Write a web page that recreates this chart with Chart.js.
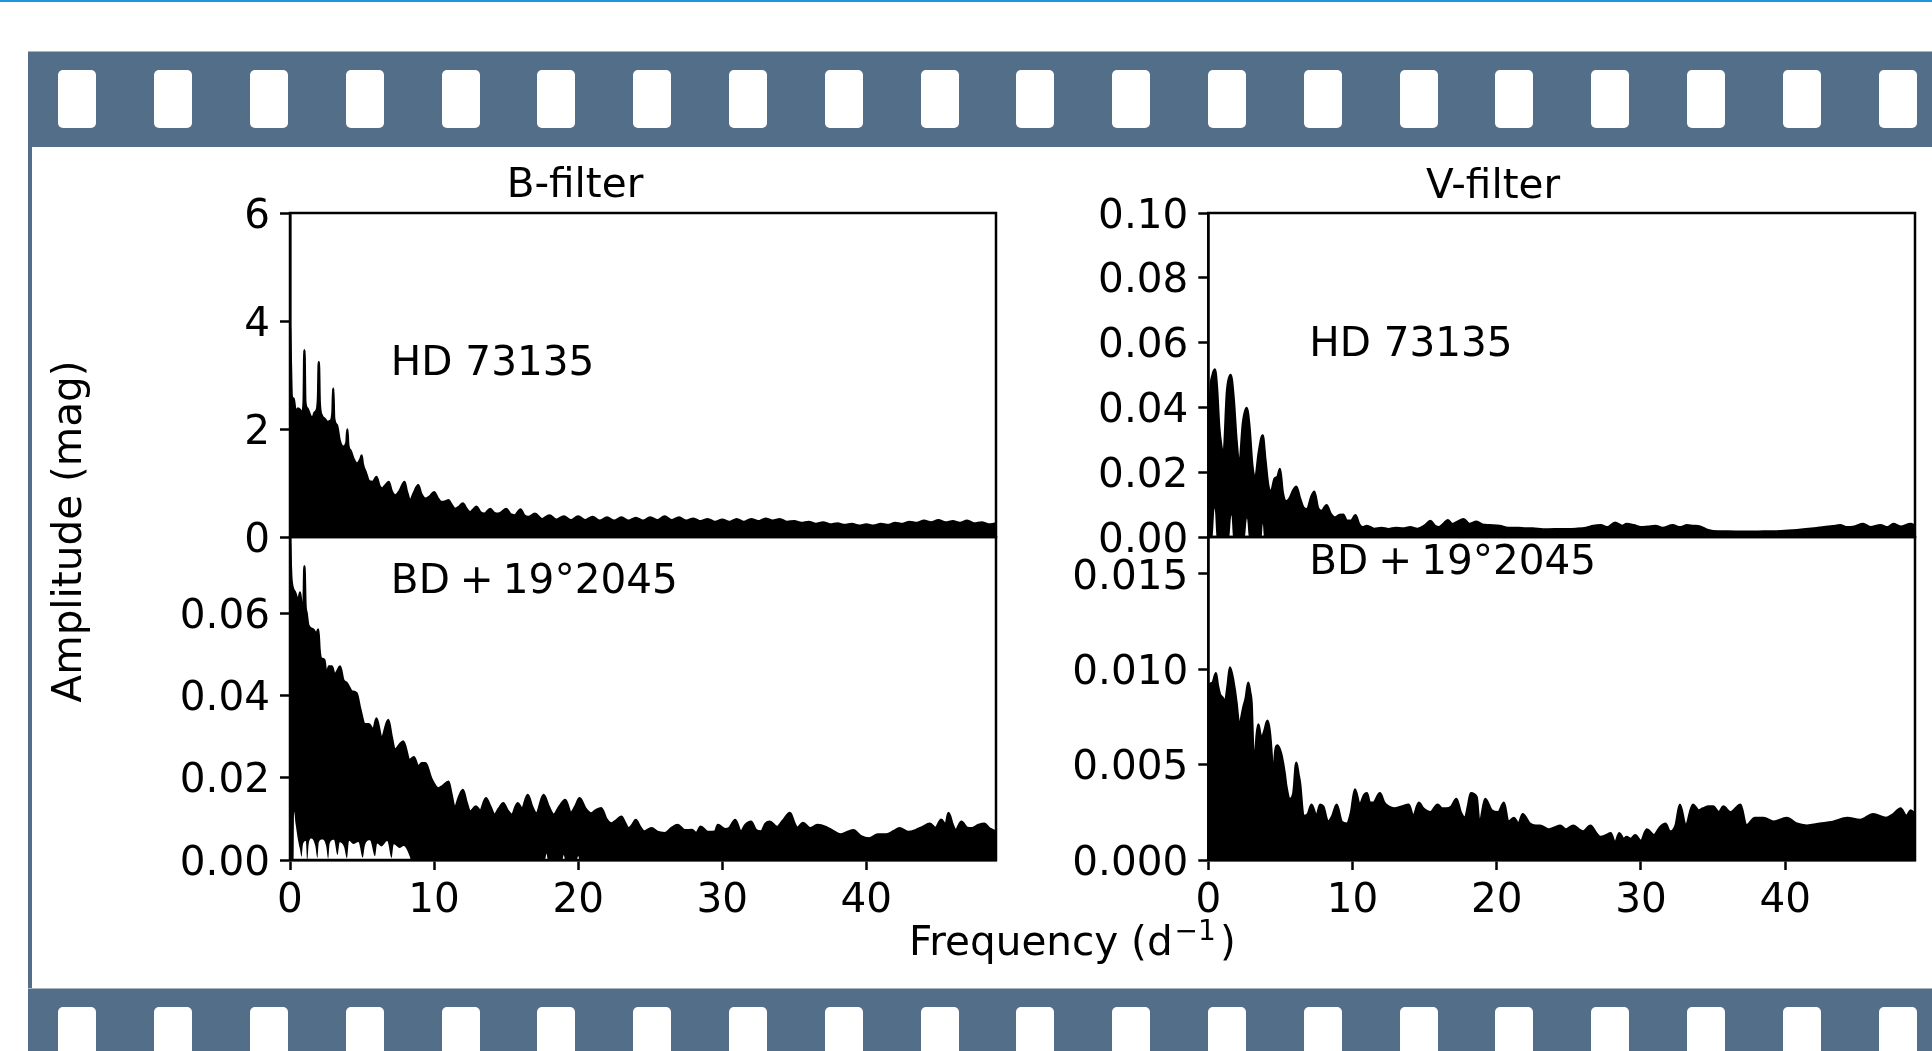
<!DOCTYPE html>
<html>
<head>
<meta charset="utf-8">
<title>Amplitude spectra, B and V filter</title>
<script src="https://cdn.jsdelivr.net/npm/chart.js@4.4.1/dist/chart.umd.min.js"></script>
<style>
  html, body { margin: 0; padding: 0; background: #fff; }
  #page { position: relative; width: 1932px; height: 1051px; overflow: hidden; background: #fff; }
  .topline { position: absolute; left: 0; top: 0; width: 1932px; height: 2px; background: #1e96dc; }
  .strip { position: absolute; left: 28px; width: 1904px; background: #536e88; }
  .strip.top { top: 51px; height: 96px; border-top: 1px solid #a9b5c1; box-sizing: border-box; }
  .strip.bottom { top: 988px; height: 63px; border-top: 1px solid #a9b5c1; box-sizing: border-box; }
  .hole { position: absolute; width: 38px; height: 58px; background: #fff; border-radius: 5px; }
  .sideline { position: absolute; left: 28px; top: 147px; width: 3.5px; height: 841px; background: #536e88; }
  canvas { position: absolute; left: 0; top: 0; }
</style>
</head>
<body>
<div id="page">
  <div class="topline"></div>
  <div class="strip top" id="stripTop"></div>
  <div class="sideline"></div>
  <div class="strip bottom" id="stripBottom"></div>
  <canvas id="cB1" width="1932" height="1051"></canvas>
  <canvas id="cB2" width="1932" height="1051"></canvas>
  <canvas id="cV1" width="1932" height="1051"></canvas>
  <canvas id="cV2" width="1932" height="1051"></canvas>
</div>
<script>
// ---- data: [frequency (1/d), amplitude (mag)] ----
const xTicks = [0, 10, 20, 30, 40];
const ticksB1 = [0, 2, 4, 6];
const ticksB2 = [0, 0.02, 0.04, 0.06];
const ticksV1 = [0, 0.02, 0.04, 0.06, 0.08, 0.10];
const ticksV2 = [0, 0.005, 0.010, 0.015];

// B-filter, HD 73135 (upper envelope)
const specB1 = [
  [0,3.86],[0.05,3.3],[0.12,2.6],[0.25,2.56],[0.4,2.3],[0.55,2.38],[0.7,2.35],[0.85,2.3],[0.95,2.5],[1.0,3.46],
  [1.06,2.5],[1.2,2.38],[1.4,2.25],[1.55,2.19],[1.7,2.3],[1.85,2.35],[1.95,2.6],[2.0,3.24],[2.06,2.5],[2.2,2.25],
  [2.4,2.19],[2.6,2.13],[2.8,2.15],[2.95,2.3],[3.0,2.75],[3.06,2.2],[3.25,2.07],[3.45,1.78],[3.7,1.67],[3.92,1.75],
  [3.98,1.99],[4.04,1.7],[4.2,1.6],[4.4,1.45],[4.65,1.36],[4.9,1.45],[4.97,1.51],[5.05,1.35],[5.25,1.2],[5.5,1.03],
  [5.75,1.02],[6.0,1.11],[6.2,0.95],[6.4,0.9],[6.6,0.95],[6.85,1.02],[7.05,0.85],[7.3,0.77],[7.6,0.85],[7.95,1.02],
  [8.1,0.85],[8.35,0.68],[8.6,0.82],[8.9,0.96],[9.1,0.8],[9.4,0.71],[9.7,0.75],[10.0,0.83],[10.25,0.72],[10.5,0.65],
  [10.8,0.66],[11.0,0.68],[11.2,0.6],[11.45,0.52],[11.7,0.55],[12.0,0.62],[12.25,0.52],[12.5,0.46],[12.7,0.5],[12.95,0.56],
  [13.2,0.46],[13.5,0.43],[13.9,0.52],[14.15,0.45],[14.45,0.43],[14.7,0.46],[15.0,0.52],[15.3,0.42],[15.6,0.4],[16.0,0.51],
  [16.25,0.4],[16.55,0.37],[17.0,0.43],[17.5,0.33],[18.0,0.4],[18.5,0.32],[19.0,0.38],[19.5,0.31],[20.0,0.38],[20.5,0.31],
  [21.0,0.37],[21.5,0.3],[22.0,0.36],[22.5,0.3],[23.0,0.36],[23.5,0.3],[24.0,0.35],[24.5,0.3],[25.0,0.36],[25.5,0.31],
  [26.0,0.38],[26.5,0.31],[27.0,0.36],[27.5,0.3],[28.0,0.34],[28.5,0.29],[29.0,0.33],[29.5,0.28],[30.0,0.32],[30.5,0.28],
  [31.0,0.33],[31.5,0.28],[32.0,0.33],[32.5,0.29],[33.0,0.34],[33.5,0.3],[34.0,0.33],[34.5,0.28],[35.0,0.29],[35.5,0.26],
  [36.0,0.28],[36.5,0.24],[37.0,0.27],[37.5,0.23],[38.0,0.25],[38.5,0.22],[39.0,0.24],[39.5,0.21],[40.0,0.23],[40.5,0.21],
  [41.0,0.24],[41.5,0.22],[42.0,0.26],[42.5,0.24],[43.0,0.28],[43.5,0.26],[44.0,0.3],[44.5,0.27],[45.0,0.31],[45.5,0.27],
  [46.0,0.29],[46.5,0.26],[47.0,0.3],[47.5,0.25],[48.0,0.27],[48.5,0.23],[49.0,0.25]
];

// B-filter, BD+19 2045 (upper envelope and the white gaps under it)
const specB2 = [
  [0,0.077],[0.05,0.072],[0.1,0.068],[0.35,0.065],[0.58,0.063],[0.7,0.065],[0.85,0.06],[0.95,0.063],[1.0,0.0714],[1.07,0.062],
  [1.15,0.06],[1.27,0.057],[1.6,0.056],[1.85,0.055],[1.96,0.056],[2.05,0.051],[2.15,0.049],[2.38,0.0486],[2.54,0.0446],[2.7,0.047],
  [2.9,0.047],[3.1,0.045],[3.3,0.046],[3.47,0.047],[3.7,0.0437],[3.93,0.043],[4.1,0.042],[4.28,0.041],[4.62,0.0405],[4.85,0.037],
  [5.2,0.033],[5.48,0.033],[5.78,0.0316],[6.0,0.0344],[6.36,0.0296],[6.82,0.034],[7.05,0.03],[7.28,0.0267],[7.6,0.028],[7.86,0.0288],
  [8.3,0.0243],[8.6,0.025],[8.9,0.0227],[9.15,0.0235],[9.4,0.0235],[9.8,0.0198],[10.3,0.0174],[10.6,0.018],[11.0,0.019],[11.2,0.016],
  [11.44,0.0126],[11.7,0.015],[12.0,0.017],[12.25,0.014],[12.5,0.0117],[12.9,0.013],[13.2,0.012],[13.6,0.015],[13.9,0.013],[14.2,0.011],
  [14.5,0.0125],[14.8,0.0138],[15.1,0.012],[15.4,0.011],[15.8,0.0138],[16.1,0.0125],[16.5,0.0158],[16.8,0.013],[17.1,0.0113],[17.6,0.0158],
  [17.95,0.013],[18.3,0.011],[18.7,0.013],[19.1,0.0146],[19.5,0.0115],[19.8,0.013],[20.1,0.015],[20.5,0.0125],[20.9,0.0113],[21.2,0.012],
  [21.6,0.0126],[21.95,0.01],[22.3,0.0089],[22.7,0.0098],[23.0,0.0105],[23.25,0.009],[23.5,0.0077],[23.75,0.0085],[24.0,0.0097],[24.3,0.008],
  [24.6,0.0069],[24.85,0.0074],[25.1,0.0077],[25.5,0.0068],[26.0,0.0065],[26.5,0.0078],[26.9,0.0085],[27.4,0.0072],[27.9,0.0073],[28.2,0.0065],
  [28.5,0.0081],[29.0,0.0068],[29.5,0.0069],[29.7,0.0085],[30.2,0.0075],[30.5,0.0078],[30.9,0.0097],[31.3,0.0069],[31.6,0.0085],[32.0,0.0093],
  [32.35,0.0072],[32.7,0.0069],[33.0,0.0088],[33.3,0.0093],[33.8,0.008],[34.2,0.0095],[34.7,0.0114],[35.0,0.009],[35.2,0.0078],[35.6,0.009],
  [36.1,0.0077],[36.6,0.0085],[37.2,0.008],[37.7,0.007],[38.2,0.0062],[38.7,0.0068],[39.1,0.0072],[39.6,0.0058],[40.2,0.0052],[40.8,0.0062],
  [41.4,0.0062],[41.9,0.007],[42.3,0.0077],[42.9,0.0068],[43.4,0.0072],[43.9,0.008],[44.4,0.0088],[44.8,0.0078],[45.2,0.0098],[45.5,0.0085],
  [45.7,0.0114],[46.0,0.0085],[46.2,0.0072],[46.6,0.0093],[47.0,0.0078],[47.3,0.0077],[47.8,0.0085],[48.2,0.0088],[48.5,0.0078],[48.8,0.0072],
  [49.0,0.0068]
];
const gapsB2 = [
  [0,0],[0.25,0],[0.28,0.0117],[0.4,0.0085],[0.55,0.005],[0.7,0.0025],[0.8,0.0008],[0.9,0.0038],[1.1,0.0046],[1.2,0],
  [1.3,0.004],[1.5,0.0052],[1.75,0.0035],[1.9,0.0005],[2.0,0.0044],[2.25,0.005],[2.5,0.0036],[2.65,0.0003],[2.75,0.004],[3.05,0.0049],
  [3.3,0.0012],[3.45,0.0043],[3.75,0.0032],[3.95,0.0004],[4.1,0.0047],[4.4,0.0039],[4.75,0.0044],[5.05,0.0006],[5.2,0.0036],[5.55,0.0048],
  [5.9,0.0009],[6.05,0.004],[6.35,0.0033],[6.75,0.0046],[7.05,0.0005],[7.2,0.0038],[7.6,0.0029],[7.9,0.0034],[8.3,0.001],[8.4,0],
  [17.7,0],[17.8,0.0015],[17.9,0],[18.9,0],[19.0,0.0012],[19.1,0],[19.9,0],[20.0,0.001],[20.1,0],[49,0]
];

// V-filter, HD 73135
const specV1 = [
  [0,0.012],[0.05,0.03],[0.15,0.045],[0.3,0.05],[0.46,0.0517],[0.6,0.046],[0.75,0.034],[0.9,0.028],[1.05,0.025],[1.3,0.045],
  [1.55,0.05],[1.75,0.043],[1.95,0.03],[2.15,0.022],[2.4,0.035],[2.66,0.0398],[2.85,0.034],[3.05,0.022],[3.25,0.018],[3.5,0.026],
  [3.77,0.0313],[3.95,0.024],[4.15,0.016],[4.35,0.014],[4.6,0.018],[4.8,0.0186],[4.97,0.021],[5.15,0.014],[5.4,0.011],[5.65,0.012],
  [5.9,0.0145],[6.1,0.0155],[6.35,0.012],[6.6,0.009],[6.85,0.0085],[7.15,0.0125],[7.35,0.014],[7.6,0.009],[7.85,0.008],[8.2,0.0098],
  [8.5,0.007],[8.8,0.006],[9.1,0.0068],[9.36,0.0069],[9.6,0.005],[9.9,0.005],[10.2,0.0067],[10.45,0.004],[10.7,0.003],[11.0,0.0034],
  [11.5,0.0025],[12.0,0.0028],[12.5,0.0024],[13.0,0.0028],[13.5,0.0026],[14.0,0.003],[14.5,0.0025],[15.0,0.0035],[15.4,0.0049],[15.7,0.0035],
  [16.0,0.003],[16.3,0.004],[16.6,0.0052],[16.9,0.004],[17.2,0.0045],[17.7,0.0055],[18.1,0.004],[18.6,0.0047],[19.0,0.0038],[19.5,0.0036],
  [20.2,0.0034],[20.8,0.0028],[21.5,0.0028],[22.0,0.0026],[22.5,0.0026],[23.2,0.0023],[24.0,0.0024],[24.8,0.0024],[25.5,0.0025],[26.2,0.0028],
  [26.7,0.0034],[27.2,0.0036],[27.7,0.003],[28.2,0.0044],[28.7,0.0034],[29.0,0.004],[29.5,0.0036],[30.0,0.003],[30.5,0.0032],[31.0,0.0034],
  [31.5,0.0028],[32.2,0.0036],[32.7,0.003],[33.2,0.0036],[33.6,0.0034],[34.1,0.0032],[34.6,0.0022],[35.0,0.0018],[36.0,0.0017],[37.4,0.0016],
  [38.5,0.0017],[39.7,0.0018],[40.8,0.0021],[42.0,0.0026],[42.7,0.003],[43.3,0.0033],[43.8,0.0036],[44.3,0.003],[44.8,0.0032],[45.4,0.004],
  [45.9,0.003],[46.6,0.0036],[47.1,0.003],[47.5,0.004],[48.0,0.0032],[48.7,0.004],[49.0,0.0035]
];
const gapsV1 = [
  [0,0],[0.3,0],[0.44,0.0088],[0.58,0],[1.46,0],[1.6,0.0067],[1.73,0],[2.54,0],[2.68,0.0057],[2.82,0],
  [3.7,0],[3.78,0.004],[3.86,0],[49,0]
];

// V-filter, BD+19 2045
const specV2 = [
  [0,0.0088],[0.1,0.0092],[0.3,0.0093],[0.53,0.0098],[0.65,0.0092],[0.8,0.0087],[1.0,0.0085],[1.16,0.0083],[1.35,0.0092],[1.5,0.0101],
  [1.73,0.0094],[1.96,0.0082],[2.05,0.0075],[2.15,0.0069],[2.3,0.0075],[2.43,0.008],[2.6,0.0085],[2.77,0.0093],[2.9,0.0088],[3.0,0.0082],
  [3.1,0.006],[3.24,0.0052],[3.35,0.0065],[3.47,0.0071],[3.6,0.0066],[3.7,0.0064],[3.9,0.0068],[4.1,0.0073],[4.25,0.0068],[4.4,0.0054],
  [4.5,0.0038],[4.62,0.0055],[4.8,0.006],[5.0,0.0057],[5.1,0.0054],[5.3,0.0045],[5.4,0.0039],[5.66,0.0032],[5.9,0.0035],[6.1,0.0051],
  [6.25,0.0045],[6.36,0.004],[6.6,0.0023],[6.9,0.0024],[7.16,0.0029],[7.5,0.0023],[7.75,0.0029],[7.97,0.0028],[8.3,0.002],[8.6,0.0023],
  [8.9,0.0029],[9.25,0.002],[9.6,0.0019],[9.9,0.0025],[10.17,0.0037],[10.5,0.0029],[10.8,0.0034],[11.0,0.0035],[11.2,0.003],[11.44,0.003],
  [11.9,0.0035],[12.2,0.003],[12.5,0.0028],[12.9,0.0027],[13.4,0.0028],[13.9,0.0029],[14.2,0.0023],[14.6,0.003],[14.9,0.0027],[15.4,0.0025],
  [15.9,0.0029],[16.2,0.0027],[16.5,0.0027],[16.85,0.0028],[17.2,0.0032],[17.5,0.0025],[17.8,0.0022],[18.0,0.0028],[18.2,0.0035],[18.6,0.0033],
  [18.8,0.0019],[19.2,0.0032],[19.65,0.0026],[20.1,0.0025],[20.5,0.003],[20.8,0.002],[21.2,0.0022],[21.5,0.0019],[21.8,0.0024],[22.3,0.0019],
  [22.7,0.0018],[23.0,0.0018],[23.6,0.0016],[24.0,0.0017],[24.4,0.0018],[24.8,0.0016],[25.3,0.0018],[25.7,0.0016],[26.0,0.0015],[26.5,0.0018],
  [26.9,0.0014],[27.2,0.0012],[27.6,0.0013],[27.9,0.0014],[28.2,0.0009],[28.5,0.0014],[28.8,0.0011],[29.0,0.0012],[29.3,0.0011],[29.6,0.0013],
  [30.0,0.001],[30.4,0.0016],[30.9,0.0013],[31.3,0.0017],[31.7,0.0019],[32.0,0.0015],[32.4,0.0018],[32.7,0.0029],[33.1,0.0018],[33.6,0.0029],
  [34.0,0.0026],[34.3,0.0027],[34.7,0.0028],[35.0,0.0028],[35.4,0.0025],[35.7,0.0028],[36.2,0.0025],[36.9,0.0029],[37.3,0.0018],[37.9,0.0022],
  [38.5,0.0022],[39.2,0.002],[40.1,0.0022],[40.8,0.0019],[41.5,0.0018],[42.4,0.0019],[43.3,0.002],[44.3,0.0022],[45.2,0.0021],[46.1,0.0024],
  [47.0,0.0022],[47.5,0.0024],[48.0,0.0027],[48.4,0.0023],[48.7,0.0026],[49.0,0.0024]
];

// ---- film strip decoration ----
['stripTop', 'stripBottom'].forEach(id => {
    const strip = document.getElementById(id);
    for (let i = 0; i < 20; i++) {
        const hole = document.createElement('div');
        hole.className = 'hole';
        hole.style.left = (30.3 + i * 95.8) + 'px';
        hole.style.top = '18px';
        strip.appendChild(hole);
    }
});

// ---- charts ----
const W = 1932, H = 1051;
const FONT = "'DejaVu Sans', sans-serif";
const FS = 40.5;
const YW = 200, XH = 60;

const toXY = pairs => pairs.map(p => ({ x: p[0], y: p[1] }));

// box around the plot area, black like matplotlib's spines
const framePlugin = {
    id: 'frame',
    afterDatasetsDraw(chart) {
        const { ctx, chartArea: a } = chart;
        ctx.save();
        ctx.lineWidth = 2.5;
        ctx.strokeStyle = '#000';
        ctx.strokeRect(a.left, a.top, a.right - a.left, a.bottom - a.top);
        ctx.restore();
    }
};

function drawStar(ctx, star, x, y) {
    if (star === 'HD') {
        ctx.fillText('HD 73135', x, y);
    } else {
        ctx.fillText('BD', x, y);
        ctx.fillText('+', x + 69, y);
        ctx.fillText('19°2045', x + 112, y);
    }
}

function makePanel(id, box, spec, gaps, yMax, yTicks, dec, showX, note, extra) {
    const datasets = [];
    // white gaps under the spectrum go on top, so they come first
    datasets.push({
        data: gaps ? toXY(gaps) : [],
        fill: 'origin', backgroundColor: '#fff', borderWidth: 0, pointRadius: 0,
        cubicInterpolationMode: 'monotone'
    });
    datasets.push({
        data: toXY(spec),
        fill: 'origin', backgroundColor: '#000', borderColor: '#000',
        borderWidth: 2.5, pointRadius: 0, cubicInterpolationMode: 'monotone'
    });

    const notePlugin = {
        id: 'note',
        afterDraw(chart) {
            const ctx = chart.ctx;
            ctx.save();
            ctx.fillStyle = '#000';
            ctx.font = FS + 'px ' + FONT;
            ctx.textBaseline = 'alphabetic';
            ctx.textAlign = 'left';
            drawStar(ctx, note.star, chart.scales.x.getPixelForValue(note.x), chart.scales.y.getPixelForValue(note.y));
            if (extra) extra(ctx);
            ctx.restore();
        }
    };

    return new Chart(document.getElementById(id), {
        type: 'line',
        data: { datasets },
        options: {
            responsive: false,
            animation: false,
            devicePixelRatio: 1,
            events: [],
            layout: {
                padding: {
                    left: box.left - YW,
                    right: W - box.right,
                    top: box.top,
                    bottom: H - box.bottom - (showX ? XH : 0)
                }
            },
            scales: {
                x: {
                    type: 'linear',
                    min: 0,
                    max: 49,
                    display: showX,
                    afterBuildTicks: s => { s.ticks = xTicks.map(v => ({ value: v })); },
                    afterFit: s => { s.height = showX ? XH : 0; },
                    ticks: { font: { family: FONT, size: FS }, color: '#000', padding: 7, maxRotation: 0 },
                    grid: { drawOnChartArea: false, tickLength: 10, tickWidth: 2.5, tickColor: '#000' },
                    border: { display: true, width: 2.5, color: '#000' }
                },
                y: {
                    type: 'linear',
                    min: 0,
                    max: yMax,
                    afterBuildTicks: s => { s.ticks = yTicks.map(v => ({ value: v })); },
                    afterFit: s => { s.width = YW; },
                    ticks: {
                        font: { family: FONT, size: FS }, color: '#000', padding: 10, labelOffset: 4,
                        callback: v => dec === 0 ? String(v) : Number(v).toFixed(dec)
                    },
                    grid: { drawOnChartArea: false, tickLength: 10, tickWidth: 2.5, tickColor: '#000' },
                    border: { display: true, width: 2.5, color: '#000' }
                }
            },
            plugins: { legend: { display: false }, tooltip: { enabled: false } }
        },
        plugins: [framePlugin, notePlugin]
    });
}

// titles and shared axis labels
function figureText(ctx) {
    ctx.font = FS + 'px ' + FONT;
    ctx.textAlign = 'center';
    ctx.fillText('B-filter', 575, 197);
    ctx.fillText('V-filter', 1493, 198);

    ctx.textAlign = 'left';
    const x0 = 909;
    ctx.fillText('Frequency (d', x0, 955);
    const x1 = x0 + ctx.measureText('Frequency (d').width + 2;
    ctx.font = '28px ' + FONT;
    ctx.fillText('\u22121', x1, 940);
    const x2 = x1 + ctx.measureText('\u22121').width + 4;
    ctx.font = FS + 'px ' + FONT;
    ctx.fillText(')', x2, 955);

    ctx.save();
    ctx.translate(81, 531.5);
    ctx.rotate(-Math.PI / 2);
    ctx.textAlign = 'center';
    ctx.fillText('Amplitude (mag)', 0, 0);
    ctx.restore();
}

const leftCol = { left: 290, right: 996 };
const rightCol = { left: 1208.3, right: 1915 };
const topRow = { top: 213, bottom: 537 };
const botRow = { top: 537, bottom: 860 };

makePanel('cB1', { ...leftCol, ...topRow }, specB1, null, 6, ticksB1, 0, false,
    { star: 'HD', x: 7, y: 3.0 }, figureText);
makePanel('cB2', { ...leftCol, ...botRow }, specB2, gapsB2, 0.0785, ticksB2, 2, true,
    { star: 'BD', x: 7, y: 0.065 });
makePanel('cV1', { ...rightCol, ...topRow }, specV1, gapsV1, 0.10, ticksV1, 2, false,
    { star: 'HD', x: 7, y: 0.056 });
makePanel('cV2', { ...rightCol, ...botRow }, specV2, null, 0.01694, ticksV2, 3, true,
    { star: 'BD', x: 7, y: 0.015 });
</script>
</body>
</html>
